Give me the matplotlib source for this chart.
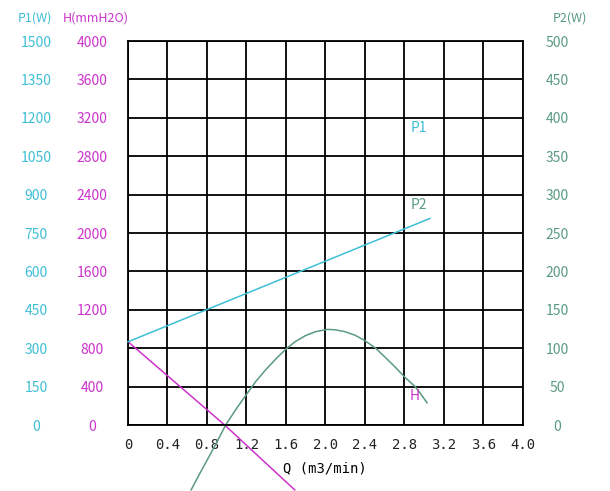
import matplotlib
matplotlib.use("Agg")
import matplotlib.pyplot as plt
import numpy as np

plt.rcParams['font.family'] = ['Noto Sans CJK SC', 'DejaVu Sans']

# axis scales
q_ticks = [0, 0.4, 0.8, 1.2, 1.6, 2.0, 2.4, 2.8, 3.2, 3.6, 4.0]
q_labels = ["0", "0.4", "0.8", "1.2", "1.6", "2.0", "2.4", "2.8", "3.2", "3.6", "4.0"]
h_ticks = [0, 400, 800, 1200, 1600, 2000, 2400, 2800, 3200, 3600, 4000]
p1_ticks = [0, 150, 300, 450, 600, 750, 900, 1050, 1200, 1350, 1500]
p2_ticks = [0, 50, 100, 150, 200, 250, 300, 350, 400, 450, 500]

# curves
p1_q = [0.0, 3.06]
p1_w = [325, 807]

hl_q = [0.0, 0.98, 1.69]
hl_mm = [868, 0, -676]

hc_q = [0.64, 0.72, 0.8, 0.9, 0.99, 1.1, 1.21, 1.3, 1.4, 1.5, 1.61, 1.7, 1.8,
        1.9, 2.02, 2.1, 2.2, 2.3, 2.4, 2.51, 2.6, 2.7, 2.8, 2.91, 2.97, 3.03]
hc_mm = [-676, -520, -370, -180, 0, 172, 332, 460, 580, 690, 800, 872, 932,
         972, 996, 992, 972, 936, 880, 800, 712, 612, 504, 400, 320, 232]

cyan = '#3fbfd6'
magenta = '#cc33cc'
green = '#5a9a80'

fig = plt.figure(figsize=(6.1, 4.91), dpi=100)
ax = fig.add_axes([0.2098, 0.1344, 0.647, 0.782])
ax.set_xlim(0, 4)
ax.set_ylim(0, 4000)
ax.set_xticks(q_ticks)
ax.set_xticklabels(q_labels, family='DejaVu Sans Mono', fontsize=10, color='#222222')
ax.set_yticks(h_ticks)
ax.set_yticklabels([str(v) for v in h_ticks], color=magenta, fontsize=10, ha='center')
ax.tick_params(axis='y', length=0, pad=26)
ax.tick_params(axis='x', length=0, pad=9)
ax.grid(True, color='black', linewidth=1.3)
for s in ax.spines.values():
    s.set_linewidth(1.3)
ax.set_xlabel("Q (m3/min)", family='DejaVu Sans Mono', fontsize=10, labelpad=7)

axp1 = ax.twinx()
axp1.set_ylim(0, 1500)
axp1.yaxis.set_ticks_position('left')
axp1.set_yticks(p1_ticks)
axp1.set_yticklabels([str(v) for v in p1_ticks], color=cyan, fontsize=10, ha='center')
axp1.tick_params(axis='y', length=0, pad=66)
for s in axp1.spines.values():
    s.set_visible(False)

axp2 = ax.twinx()
axp2.set_ylim(0, 500)
axp2.set_yticks(p2_ticks)
axp2.set_yticklabels([str(v) for v in p2_ticks], color=green, fontsize=10, ha='center')
axp2.tick_params(axis='y', length=0, pad=25)
for s in axp2.spines.values():
    s.set_visible(False)

axp1.plot(p1_q, p1_w, color=cyan, lw=1.1, clip_on=False)
ax.plot(hl_q, hl_mm, color=magenta, lw=1.1, clip_on=False)
ax.plot(hc_q, hc_mm, color=green, lw=1.1, clip_on=False)

ax.text(2.95, 3094, "P1", color=cyan, fontsize=10, ha='center', va='center')
ax.text(2.95, 2292, "P2", color=green, fontsize=10, ha='center', va='center')
ax.text(2.91, 302, "H", color=magenta, fontsize=10, ha='center', va='center')

fig.text(35 / 610, 1 - 18 / 491, "P1(W)", color=cyan, fontsize=9, ha='center', va='center')
fig.text(96 / 610, 1 - 18 / 491, "H(mmH2O)", color=magenta, fontsize=9, ha='center', va='center')
fig.text(570 / 610, 1 - 18 / 491, "P2(W)", color=green, fontsize=9, ha='center', va='center')

fig.savefig("out.png", dpi=100)
